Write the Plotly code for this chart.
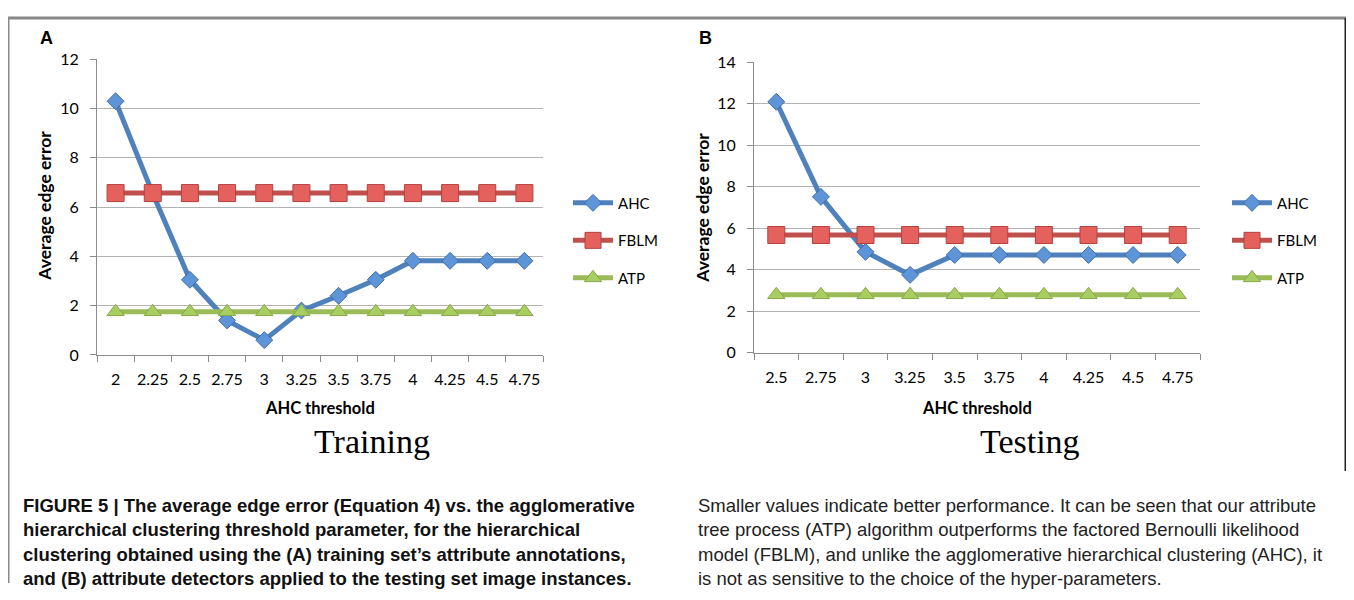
import plotly.graph_objects as go

# ---------------- data ----------------
train_thresholds = ["2", "2.25", "2.5", "2.75", "3", "3.25", "3.5", "3.75", "4", "4.25", "4.5", "4.75"]
train_ahc = [10.3, 6.55, 3.05, 1.4, 0.6, 1.8, 2.4, 3.05, 3.82, 3.82, 3.82, 3.82]
train_fblm = [6.57] * 12
train_atp = [1.75] * 12

test_thresholds = ["2.5", "2.75", "3", "3.25", "3.5", "3.75", "4", "4.25", "4.5", "4.75"]
test_ahc = [12.1, 7.52, 4.87, 3.76, 4.72, 4.72, 4.72, 4.72, 4.72, 4.72]
test_fblm = [5.68] * 10
test_atp = [2.8] * 10

series_names = ["AHC", "FBLM", "ATP"]

# figure size and placement helpers (page pixel -> paper fraction)
W, H = 1338, 584
X0 = 8.0
Y0, YS = 17.7, 564.0
def px(x):
    return (x - X0) / W
def py(y):
    return 1 - (y - Y0) / YS

LINE_COL = ["#4F81BD", "#C0504D", "#9BBB59"]
FILL_COL = ["#5E95D8", "#E4615E", "#A8CE62"]
EDGE_COL = ["#3E6DAA", "#B4403D", "#8AA74B"]
SYMBOLS = ["diamond", "square", "triangle-up"]
SIZES = [13, 17, 15]

SANS = "Lato, Open Sans, sans-serif"
TICKFONT = dict(family=SANS, size=16, color="#000")
GRID = "#B3B3B3"

fig = go.Figure()

panels = [
    (train_thresholds, [train_ahc, train_fblm, train_atp], "x", "y", "legend"),
    (test_thresholds, [test_ahc, test_fblm, test_atp], "x2", "y2", "legend2"),
]
for cats, vals, xa, ya, lg in panels:
    for i, name in enumerate(series_names):
        fig.add_trace(go.Scatter(
            x=cats, y=vals[i], name=name, mode="lines+markers",
            xaxis=xa, yaxis=ya, legend=lg, legendgroup=lg + name,
            line=dict(color=LINE_COL[i], width=5),
            marker=dict(symbol=SYMBOLS[i], size=SIZES[i], color=FILL_COL[i],
                        line=dict(color=EDGE_COL[i], width=1)),
            cliponaxis=False,
        ))

def xaxis(domain, anchor, n):
    return dict(domain=domain, anchor=anchor, type="category",
                range=[-0.5, n - 0.5], tickson="boundaries", tickangle=0,
                ticks="outside", ticklen=6, tickcolor="#8c8c8c",
                showline=True, linecolor="#8c8c8c", linewidth=1,
                showgrid=False, zeroline=False, tickfont=TICKFONT,
                ticklabelstandoff=10, fixedrange=True)

def yaxis(domain, anchor, top):
    return dict(domain=domain, anchor=anchor, range=[0, top], dtick=2,
                ticks="outside", ticklen=6, tickcolor="#8c8c8c",
                showline=True, linecolor="#8c8c8c", linewidth=1,
                showgrid=True, gridcolor=GRID, gridwidth=1, zeroline=False,
                tickfont=TICKFONT, ticklabelstandoff=8, fixedrange=True)

legend_common = dict(xanchor="left", yanchor="top", bgcolor="rgba(0,0,0,0)",
                     font=dict(family=SANS, size=15, color="#000"),
                     tracegroupgap=15, itemsizing="trace", itemwidth=40)

CAP_L = ["<b>FIGURE 5 | The average edge error (Equation 4) vs. the agglomerative</b>",
         "<b>hierarchical clustering threshold parameter, for the hierarchical</b>",
         "<b>clustering obtained using the (A) training set’s attribute annotations,</b>",
         "<b>and (B) attribute detectors applied to the testing set image instances.</b>"]
CAP_R = ["Smaller values indicate better performance. It can be seen that our attribute",
         "tree process (ATP) algorithm outperforms the factored Bernoulli likelihood",
         "model (FBLM), and unlike the agglomerative hierarchical clustering (AHC), it",
         "is not as sensitive to the choice of the hyper-parameters."]
CAP_Y = [504, 528.5, 553, 577]

annotations = [
    dict(text="<b>A</b>", x=px(46), y=py(38), font=dict(family="Liberation Sans, Arial", size=18)),
    dict(text="<b>B</b>", x=px(705), y=py(38), font=dict(family="Liberation Sans, Arial", size=18)),
    dict(text="<b>Average edge error</b>", x=px(45), y=py(205), textangle=-90,
         font=dict(family=SANS, size=17.5)),
    dict(text="<b>Average edge error</b>", x=px(703), y=py(207), textangle=-90,
         font=dict(family=SANS, size=17.5)),
    dict(text="<b>AHC threshold</b>", x=px(320), y=py(407),
         font=dict(family=SANS, size=16.5)),
    dict(text="<b>AHC threshold</b>", x=px(977), y=py(407),
         font=dict(family=SANS, size=16.5)),
    dict(text="Training", x=px(372), y=py(440),
         font=dict(family="Liberation Serif, Times New Roman, serif", size=34)),
    dict(text="Testing", x=px(1030), y=py(440),
         font=dict(family="Liberation Serif, Times New Roman, serif", size=34)),
]
for t, y in zip(CAP_L, CAP_Y):
    annotations.append(dict(text=t, x=px(21), y=py(y), xanchor="left",
                            font=dict(family="Liberation Sans Narrow, Arial Narrow, sans-serif",
                                      size=18.5, color="#111")))
for t, y in zip(CAP_R, CAP_Y):
    annotations.append(dict(text=t, x=px(696), y=py(y), xanchor="left",
                            font=dict(family="Liberation Sans Narrow, Arial Narrow, sans-serif",
                                      size=18.5, color="#222")))
for a in annotations:
    a.setdefault("xref", "paper")
    a.setdefault("yref", "paper")
    a.setdefault("showarrow", False)
    a.setdefault("xanchor", "center")
    a.setdefault("yanchor", "middle")

shapes = [
    dict(type="line", xref="paper", yref="paper", x0=0, x1=1, y0=1, y1=1,
         line=dict(color="#888888", width=3)),
    dict(type="line", xref="paper", yref="paper", x0=0, x1=0, y0=1, y1=0,
         line=dict(color="#888888", width=3)),
    dict(type="line", xref="paper", yref="paper", x0=1, x1=1, y0=1, y1=py(470),
         line=dict(color="#222222", width=3)),
]

fig.update_layout(
    width=W, height=H, autosize=False,
    margin=dict(l=0, r=0, t=0, b=0),
    paper_bgcolor="white", plot_bgcolor="white",
    font=dict(family=SANS, color="#000"),
    xaxis=xaxis([px(97), px(543)], "y", len(train_thresholds)),
    yaxis=yaxis([py(354), py(59)], "x", 12),
    xaxis2=xaxis([px(754), px(1200)], "y2", len(test_thresholds)),
    yaxis2=yaxis([py(352), py(62)], "x2", 14),
    legend=dict(x=px(568), y=py(186), **legend_common),
    legend2=dict(x=px(1227), y=py(186), **legend_common),
    annotations=annotations,
    shapes=shapes,
    showlegend=True,
)

fig.write_html("out.html")
